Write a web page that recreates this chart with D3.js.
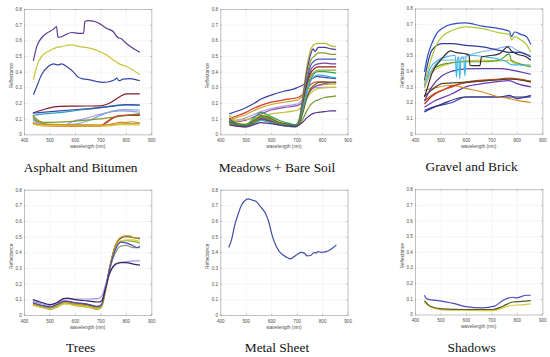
<!DOCTYPE html>
<html>
<head>
<meta charset="utf-8">
<script src="https://cdn.jsdelivr.net/npm/d3@7"></script>
<style>
  body { margin: 0; background: #fff; }
  svg { display: block; }
  .tick text { font-family: "Liberation Sans", Arial, sans-serif; font-size: 4.6px; fill: #4d4d4d; }
  .axis path, .axis line { stroke: #8c8c8c; stroke-width: 0.5; }
  .grid line { stroke: #d9d9d9; stroke-width: 0.5; stroke-dasharray: 1 1; }
  .grid path { display: none; }
  .lbl { font-family: "Liberation Sans", Arial, sans-serif; font-size: 4.8px; fill: #4d4d4d; }
  .title { font-family: "Liberation Serif", "Times New Roman", serif; font-size: 13.4px; fill: #111; }
</style>
</head>
<body>
<svg id="chart" width="550" height="357"></svg>
<script>
// ticks
const xTicks = [400, 500, 600, 700, 800, 900]
const yTicks = [0, 0.1, 0.2, 0.3, 0.4, 0.5, 0.6, 0.7, 0.8]
const yTickLabels = ['0', '0.1', '0.2', '0.3', '0.4', '0.5', '0.6', '0.7', '0.8']

const titles = ['Asphalt and Bitumen', 'Meadows + Bare Soil', 'Gravel and Brick', 'Trees', 'Metal Sheet', 'Shadows']

// spectra: [wavelength (nm), reflectance]
const asphaltSeries = [
  [[435, .135], [480, .16], [540, .178], [600, .18], [700, .182], [737, .20], [776, .24], [802, .258], [855, .258]],
  [[435, .12], [480, .13], [550, .14], [620, .155], [680, .165], [720, .175], [760, .185], [800, .188], [855, .185]],
  [[435, .135], [541, .15], [646, .163], [698, .17], [752, .18], [802, .19], [855, .187]],
  [[435, .10], [460, .075], [500, .062], [560, .06], [593, .083], [640, .10], [698, .127], [752, .146], [776, .15], [855, .142]],
  [[435, .09], [460, .07], [520, .058], [600, .065], [650, .085], [700, .12], [750, .15], [800, .158], [855, .155]],
  [[435, .12], [455, .09], [476, .076], [593, .083], [698, .098], [776, .114], [855, .132]],
  [[435, .11], [455, .08], [500, .06], [700, .055], [720, .07], [750, .105], [775, .12], [855, .126]],
  [[435, .115], [450, .09], [480, .065], [700, .058], [760, .065], [855, .07]],
  [[435, .07], [470, .056], [700, .05], [720, .075], [750, .105], [775, .12], [855, .12]],
  [[435, .075], [470, .06], [720, .058], [760, .07], [780, .078], [800, .075], [820, .08], [855, .072]],
  [[435, .065], [470, .055], [720, .052], [780, .062], [855, .06]],
  [[437, .252], [450, .305], [469, .38], [495, .433], [515, .45], [534, .443], [548, .45], [567, .433], [593, .40], [613, .365], [632, .354], [658, .348], [685, .337], [711, .331], [737, .337], [756, .348], [765, .359], [773, .342], [789, .352], [815, .356], [841, .348], [855, .342]],
  [[437, .348], [450, .433], [469, .497], [495, .528], [521, .55], [548, .56], [587, .571], [619, .56], [658, .55], [698, .528], [724, .507], [750, .475], [776, .448], [802, .433], [828, .41], [855, .38]],
  [[437, .469], [450, .56], [463, .603], [489, .645], [515, .67], [528, .687], [533, .62], [540, .62], [561, .634], [587, .65], [613, .645], [634, .645], [639, .72], [652, .726], [678, .72], [698, .705], [724, .677], [750, .656], [769, .617], [779, .613], [802, .58], [828, .55], [848, .53], [855, .524]]
]
const asphaltColors = ['#7a1f2b', '#2fa3c4', '#3a4aa8', '#a397dc', '#79a9dc', '#7f9b2c', '#5c7a1e', '#b3a43e', '#d63a26', '#e08a1e', '#d8c83a', '#3547a6', '#c8c43a', '#5a3a8e']

const meadowsSeries = [
  [[435, .13], [470, .15], [500, .17], [530, .195], [560, .225], [600, .25], [650, .275], [690, .29], [705, .30], [720, .31], [740, .33], [760, .355], [780, .37], [800, .365], [830, .36], [855, .355]],
  [[435, .10], [470, .12], [500, .14], [530, .165], [560, .185], [600, .205], [650, .22], [690, .23], [705, .235], [720, .25], [740, .29], [760, .325], [780, .335], [800, .335], [830, .33], [855, .33]],
  [[435, .09], [470, .11], [500, .125], [530, .15], [560, .17], [600, .19], [650, .205], [690, .215], [705, .22], [720, .24], [740, .28], [760, .30], [780, .31], [800, .315], [830, .32], [855, .32]],
  [[435, .08], [470, .09], [500, .105], [530, .125], [560, .145], [600, .165], [650, .18], [690, .19], [705, .195], [720, .215], [740, .26], [760, .29], [780, .30], [800, .30], [830, .30], [855, .30]],
  [[435, .075], [470, .08], [500, .09], [530, .11], [560, .13], [600, .155], [650, .17], [690, .18], [705, .185], [720, .20], [740, .245], [760, .29], [780, .31], [800, .32], [830, .33], [855, .335]],
  [[435, .09], [470, .09], [500, .095], [530, .10], [560, .115], [600, .13], [650, .14], [690, .15], [705, .155], [720, .18], [740, .23], [760, .27], [780, .29], [800, .295], [830, .30], [855, .30]],
  [[435, .12], [470, .07], [500, .065], [530, .09], [560, .115], [590, .105], [630, .08], [670, .065], [695, .06], [710, .10], [725, .26], [740, .43], [755, .54], [770, .575], [785, .58], [810, .58], [835, .565], [855, .56]],
  [[435, .10], [470, .065], [500, .06], [530, .085], [560, .11], [590, .10], [630, .075], [670, .062], [695, .057], [710, .09], [725, .24], [740, .40], [755, .51], [765, .545], [772, .53], [785, .555], [810, .555], [835, .545], [855, .54]],
  [[435, .09], [470, .06], [500, .055], [530, .08], [560, .105], [590, .095], [630, .07], [670, .058], [695, .054], [710, .085], [725, .22], [740, .37], [755, .47], [770, .50], [785, .52], [810, .52], [835, .51], [855, .51]],
  [[435, .085], [470, .058], [500, .053], [530, .075], [560, .10], [590, .09], [630, .068], [670, .055], [695, .052], [710, .08], [725, .20], [740, .34], [755, .44], [770, .47], [785, .48], [810, .48], [835, .48], [855, .48]],
  [[435, .08], [470, .056], [500, .05], [530, .072], [560, .095], [590, .086], [630, .065], [670, .053], [695, .05], [710, .078], [725, .19], [740, .32], [755, .41], [770, .44], [785, .45], [810, .455], [835, .45], [855, .45]],
  [[435, .08], [470, .055], [500, .05], [530, .07], [560, .092], [590, .083], [630, .063], [670, .052], [695, .049], [710, .075], [725, .18], [740, .31], [755, .39], [770, .42], [785, .43], [810, .43], [835, .43], [855, .43]],
  [[435, .075], [470, .054], [500, .05], [530, .068], [560, .09], [590, .08], [630, .062], [670, .051], [695, .048], [710, .073], [725, .17], [740, .29], [755, .37], [770, .40], [785, .41], [810, .41], [835, .41], [855, .41]],
  [[435, .08], [470, .06], [500, .06], [530, .10], [560, .14], [590, .12], [630, .09], [670, .07], [695, .06], [710, .08], [725, .17], [740, .27], [755, .35], [770, .39], [785, .40], [810, .40], [835, .395], [855, .39]],
  [[435, .07], [470, .053], [500, .049], [530, .066], [560, .088], [590, .078], [630, .06], [670, .05], [695, .047], [710, .07], [725, .16], [740, .27], [755, .34], [770, .37], [785, .38], [810, .375], [835, .365], [855, .36]],
  [[435, .075], [470, .055], [500, .05], [530, .075], [560, .12], [590, .11], [630, .075], [670, .055], [695, .05], [710, .07], [725, .14], [740, .23], [755, .29], [770, .315], [785, .33], [810, .335], [835, .333], [855, .33]],
  [[435, .07], [470, .052], [500, .048], [530, .07], [560, .11], [590, .10], [630, .072], [670, .055], [695, .05], [710, .065], [725, .10], [740, .15], [755, .19], [770, .21], [785, .22], [810, .235], [835, .24], [855, .245]],
  [[435, .06], [470, .05], [500, .048], [530, .06], [560, .075], [590, .07], [630, .06], [670, .052], [695, .05], [710, .06], [725, .08], [740, .105], [755, .125], [770, .135], [785, .14], [810, .145], [835, .15], [855, .15]]
]
const meadowsColors = ['#3f3fa8', '#d13b2e', '#d0a830', '#a89ee0', '#8a4fb0', '#c8c040', '#b8b830', '#4b3f9a', '#8c9a2a', '#3c5bb8', '#7a3fa0', '#8a2020', '#a0a040', '#30a050', '#3ab0d8', '#6b6b1e', '#6a9a2a', '#5a2f8a']

const gravelSeries = [
  [[437, .15], [480, .175], [546, .20], [599, .235], [731, .235], [771, .245], [800, .225], [855, .245]],
  [[437, .14], [506, .19], [599, .235], [731, .235], [855, .235]],
  [[437, .17], [466, .20], [546, .256], [599, .30], [665, .32], [771, .34], [800, .32], [855, .30]],
  [[437, .277], [470, .29], [546, .31], [599, .29], [665, .267], [731, .235], [771, .225], [800, .213], [855, .20]],
  [[437, .19], [466, .24], [506, .277], [580, .32], [731, .345], [771, .35], [855, .335]],
  [[437, .21], [480, .26], [546, .30], [599, .33], [731, .35], [771, .355], [855, .335]],
  [[437, .24], [466, .28], [506, .32], [599, .33], [731, .345], [771, .35], [855, .33]],
  [[437, .21], [466, .30], [506, .37], [546, .40], [599, .415], [665, .416], [731, .416], [771, .41], [800, .40], [855, .38]],
  [[437, .29], [466, .39], [520, .44], [599, .465], [665, .47], [731, .465], [771, .47], [790, .45], [855, .44]],
  [[437, .31], [466, .405], [520, .448], [599, .46], [665, .46], [731, .47], [771, .51], [778, .47], [790, .46], [855, .427]],
  [[437, .30], [460, .42], [490, .47], [520, .49], [550, .50], [558, .50], [563, .36], [568, .49], [572, .49], [576, .35], [581, .49], [591, .49], [596, .37], [601, .50], [630, .50], [680, .49], [720, .48], [760, .46], [780, .44], [810, .44], [855, .43]],
  [[437, .30], [470, .42], [510, .47], [560, .47], [610, .50], [650, .52], [700, .535], [750, .555], [770, .56], [800, .533], [855, .50]],
  [[437, .235], [450, .30], [466, .384], [506, .48], [540, .529], [560, .52], [599, .51], [612, .505], [616, .437], [640, .435], [655, .435], [661, .49], [731, .51], [765, .555], [778, .53], [800, .51], [838, .49], [855, .47]],
  [[437, .34], [450, .45], [466, .533], [506, .576], [546, .576], [599, .565], [665, .555], [731, .533], [771, .52], [810, .52], [855, .49]],
  [[437, .32], [450, .40], [466, .49], [485, .57], [506, .62], [546, .66], [599, .683], [665, .672], [731, .644], [771, .634], [779, .60], [791, .62], [815, .60], [838, .57], [855, .52]],
  [[437, .395], [450, .50], [466, .576], [485, .64], [506, .672], [546, .70], [599, .708], [665, .687], [731, .672], [771, .655], [779, .62], [791, .65], [815, .635], [838, .62], [855, .57]]
]
const gravelColors = ['#3a3aa8', '#2a2a80', '#6a3ab8', '#d08a1e', '#a03020', '#d04a1e', '#4a4a2a', '#5a3aa0', '#e0c83a', '#5aa02a', '#3ab8e8', '#8fb6ea', '#3a2a2a', '#2a3a9a', '#b0c838', '#2f50c0']

const treesSeries = [
  [[435, .062], [470, .048], [502, .036], [530, .05], [560, .073], [600, .06], [650, .05], [690, .036], [705, .05], [720, .15], [740, .31], [760, .43], [780, .47], [800, .475], [830, .47], [855, .46]],
  [[435, .07], [470, .055], [502, .045], [530, .06], [560, .075], [600, .068], [650, .058], [690, .045], [705, .06], [720, .16], [740, .31], [760, .40], [780, .44], [800, .445], [830, .43], [855, .43]],
  [[435, .065], [470, .05], [502, .04], [530, .055], [560, .072], [600, .062], [650, .052], [690, .04], [705, .055], [720, .16], [740, .32], [760, .44], [775, .47], [800, .48], [830, .48], [855, .47]],
  [[435, .075], [470, .058], [502, .048], [530, .065], [560, .085], [600, .075], [650, .065], [690, .05], [705, .065], [720, .17], [740, .33], [760, .45], [780, .49], [800, .50], [830, .495], [855, .485]],
  [[435, .07], [470, .055], [502, .045], [530, .06], [560, .08], [600, .07], [650, .06], [690, .045], [705, .06], [720, .17], [740, .33], [760, .45], [775, .49], [795, .505], [815, .505], [835, .49], [855, .495]],
  [[435, .08], [470, .062], [502, .052], [530, .07], [560, .09], [600, .08], [650, .07], [690, .055], [705, .07], [720, .17], [740, .32], [760, .42], [780, .465], [800, .46], [825, .445], [845, .43], [855, .44]],
  [[435, .085], [470, .072], [502, .062], [530, .075], [560, .105], [600, .102], [650, .102], [690, .105], [705, .12], [720, .19], [740, .28], [760, .32], [780, .335], [800, .34], [830, .345], [855, .345]],
  [[435, .098], [470, .08], [502, .066], [530, .08], [555, .105], [570, .108], [600, .098], [650, .09], [690, .083], [705, .09], [720, .17], [735, .26], [750, .31], [765, .33], [780, .335], [800, .335], [830, .325], [855, .318]]
]
const treesColors = ['#7aa83a', '#8a9a7a', '#e0d040', '#5a4a20', '#c89a20', '#4a4ab8', '#9a9ae8', '#3a2060']

const metalSeries = [
  [[433, .431], [444, .48], [457, .576], [470, .644], [484, .704], [501, .736], [510, .742], [524, .734], [541, .725], [557, .693], [577, .65], [590, .597], [603, .512], [617, .448], [630, .41], [643, .388], [663, .367], [674, .358], [690, .373], [703, .388], [719, .40], [730, .395], [740, .378], [754, .38], [770, .40], [776, .395], [783, .405], [796, .40], [816, .405], [836, .422], [856, .448]]
]
const metalColors = ['#3f4fa8']

const shadowsSeries = [
  [[437, .08], [450, .06], [470, .042], [506, .03], [600, .027], [705, .025], [730, .035], [745, .042], [784, .059], [820, .062], [855, .068]],
  [[437, .089], [460, .053], [506, .036], [599, .032], [705, .032], [745, .053], [784, .08], [820, .084], [855, .089]],
  [[437, .123], [446, .10], [506, .085], [559, .068], [599, .05], [665, .042], [712, .053], [745, .089], [784, .11], [797, .106], [838, .123], [855, .123]]
]
const shadowsColors = ['#d8c83a', '#5a5a1e', '#4a4ab8']

const panels = [
  { title: titles[0], series: asphaltSeries, colors: asphaltColors, left: 24, top: 9 },
  { title: titles[1], series: meadowsSeries, colors: meadowsColors, left: 220.3, top: 9 },
  { title: titles[2], series: gravelSeries, colors: gravelColors, left: 415, top: 8.5 },
  { title: titles[3], series: treesSeries, colors: treesColors, left: 24, top: 189.7 },
  { title: titles[4], series: metalSeries, colors: metalColors, left: 220.3, top: 189.7 },
  { title: titles[5], series: shadowsSeries, colors: shadowsColors, left: 415, top: 189.2 }
]

const PW = 127.3
const PH = 125.3

const svg = d3.select('#chart')

const x = d3.scaleLinear().domain([400, 900]).range([0, PW])
const y = d3.scaleLinear().domain([0, 0.8]).range([PH, 0])

const line = d3.line()
  .x((d) => x(d[0]))
  .y((d) => y(d[1]))
  .curve(d3.curveMonotoneX)

panels.forEach((p) => {
  const g = svg.append('g').attr('transform', `translate(${p.left},${p.top})`)

  // grid
  g.append('g').attr('class', 'grid')
    .attr('transform', `translate(0,${PH})`)
    .call(d3.axisBottom(x).tickValues(xTicks).tickSize(-PH).tickFormat(''))
  g.append('g').attr('class', 'grid')
    .call(d3.axisLeft(y).tickValues(yTicks).tickSize(-PW).tickFormat(''))

  // spectra
  g.selectAll('path.spec')
    .data(p.series)
    .enter()
    .append('path')
    .attr('class', 'spec')
    .attr('d', line)
    .attr('fill', 'none')
    .attr('stroke', (d, i) => p.colors[i])
    .attr('stroke-width', 1.2)
    .attr('stroke-linejoin', 'round')

  // axes
  g.append('g').attr('class', 'axis')
    .attr('transform', `translate(0,${PH})`)
    .call(d3.axisBottom(x).tickValues(xTicks).tickSizeInner(-1.3).tickSizeOuter(0).tickPadding(4.5))
  g.append('g').attr('class', 'axis')
    .call(d3.axisLeft(y).tickValues(yTicks).tickSizeInner(-1.3).tickSizeOuter(0).tickPadding(2.2)
      .tickFormat((d, i) => yTickLabels[i]))
  g.append('g').attr('class', 'axis')
    .call(d3.axisTop(x).tickValues(xTicks).tickSizeInner(-1.3).tickSizeOuter(0).tickFormat(''))
  g.append('g').attr('class', 'axis')
    .attr('transform', `translate(${PW},0)`)
    .call(d3.axisRight(y).tickValues(yTicks).tickSizeInner(-1.3).tickSizeOuter(0).tickFormat(''))

  g.selectAll('.axis text').attr('stroke', 'none')

  g.append('text').attr('class', 'lbl')
    .attr('x', PW / 2).attr('y', PH + 14)
    .attr('text-anchor', 'middle')
    .text('wavelength (nm)')
  g.append('text').attr('class', 'lbl')
    .attr('transform', `translate(-11.5,${PH / 2 + 4}) rotate(-90)`)
    .attr('text-anchor', 'middle')
    .text('Reflectance')

  g.append('text').attr('class', 'title')
    .attr('x', PW / 2 - 7).attr('y', PH + 37.5)
    .attr('text-anchor', 'middle')
    .text(p.title)
})
</script>
</body>
</html>
